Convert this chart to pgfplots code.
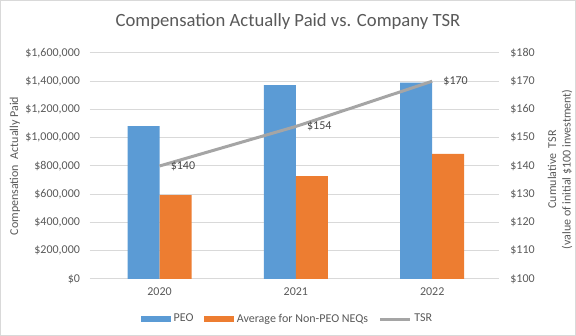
\documentclass[border=0pt]{standalone}
\usepackage{pgfplots}
\pgfplotsset{compat=1.18}
\usepackage{fontspec}
\setmainfont{Carlito}
\definecolor{cblue}{HTML}{5B9BD5}
\definecolor{corange}{HTML}{ED7D31}
\definecolor{cgray}{HTML}{A5A5A5}
\definecolor{ctext}{HTML}{595959}
\definecolor{cgrid}{HTML}{D9D9D9}
\begin{document}
\begin{tikzpicture}
\useasboundingbox (0,0) rectangle (432pt,252pt);
\draw[cgrid, line width=0.75pt] (0.4pt,0.4pt) rectangle (431.6pt,251.6pt);
\node[font=\fontsize{14}{16}\selectfont, text=ctext] at (216pt,235.5pt) {Compensation Actually Paid vs. Company TSR};
\begin{axis}[
  at={(67.5pt,42.75pt)}, anchor=south west,
  scale only axis, width=306.75pt, height=169.5pt,
  xmin=-0.51, xmax=2.49, ymin=0, ymax=1600000,
  scaled y ticks=false,
  ybar=0pt, bar width=24pt,
  axis line style={draw=none},
  xtick={0,1,2}, xticklabels={2020,2021,2022},
  ytick={0,200000,400000,600000,800000,1000000,1200000,1400000,1600000},
  yticklabels={{\$0},{\$200,000},{\$400,000},{\$600,000},{\$800,000},{\$1,000,000},{\$1,200,000},{\$1,400,000},{\$1,600,000}},
  major tick length=0pt,
  ymajorgrids, grid style={cgrid, line width=0.75pt},
  tick label style={font=\fontsize{9}{11}\selectfont, text=ctext},
  yticklabel style={xshift=-4pt},
  xticklabel style={yshift=-3pt},
  ylabel={Compensation\ \ Actually Paid},
  ylabel style={font=\fontsize{9}{11}\selectfont, text=ctext, at={(-56.25pt,0.5)}, rotate=0, anchor=center},
  legend style={at={(0.484,-0.177)}, anchor=center, draw=none, fill=none, legend columns=-1,
    font=\fontsize{9}{11}\selectfont, text=ctext,
    /tikz/every even column/.append style={column sep=6pt}},
]
\addplot[fill=cblue, draw=none, legend image code/.code={\fill[cblue] (0pt,-2.5pt) rectangle (22.5pt,2.5pt);}] coordinates {(0,1082000) (1,1373000) (2,1390000)};
\addlegendentry{PEO}
\addplot[fill=corange, draw=none, legend image code/.code={\fill[corange] (0pt,-2.5pt) rectangle (22.5pt,2.5pt);}] coordinates {(0,594000) (1,729000) (2,885000)};
\addlegendentry{Average for Non-PEO NEQs}
\addlegendimage{legend image code/.code={\draw[cgray, line width=2.25pt] (0pt,0pt) -- (22.5pt,0pt);}}
\addlegendentry{TSR}
\end{axis}
\begin{axis}[
  at={(67.5pt,42.75pt)}, anchor=south west,
  scale only axis, width=306.75pt, height=169.5pt,
  xmin=-0.51, xmax=2.49, ymin=100, ymax=180,
  axis line style={draw=none},
  hide x axis,
  axis y line*=right,
  /pgf/number format/assume math mode=true,
  ytick={100,110,120,130,140,150,160,170,180},
  yticklabels={{\$100},{\$110},{\$120},{\$130},{\$140},{\$150},{\$160},{\$170},{\$180}},
  major tick length=0pt,
  tick label style={font=\fontsize{9}{11}\selectfont, text=ctext},
  yticklabel style={xshift=5pt},
]
\addplot[cgray, line width=2.25pt, mark=none,
  nodes near coords={\$\pgfmathprintnumber{\pgfplotspointmeta}},
  every node near coord/.append style={anchor=west, xshift=4pt, font=\fontsize{9}{11}\selectfont, text=ctext!80!black}]
  coordinates {(0,140) (1,154) (2,170)};
\end{axis}
\node[font=\fontsize{9}{11}\selectfont, text=ctext, rotate=90, align=center] at (420pt,125pt) {Cumulative\ \ TSR\\(value of initial \$100 investment)};
\end{tikzpicture}
\end{document}
